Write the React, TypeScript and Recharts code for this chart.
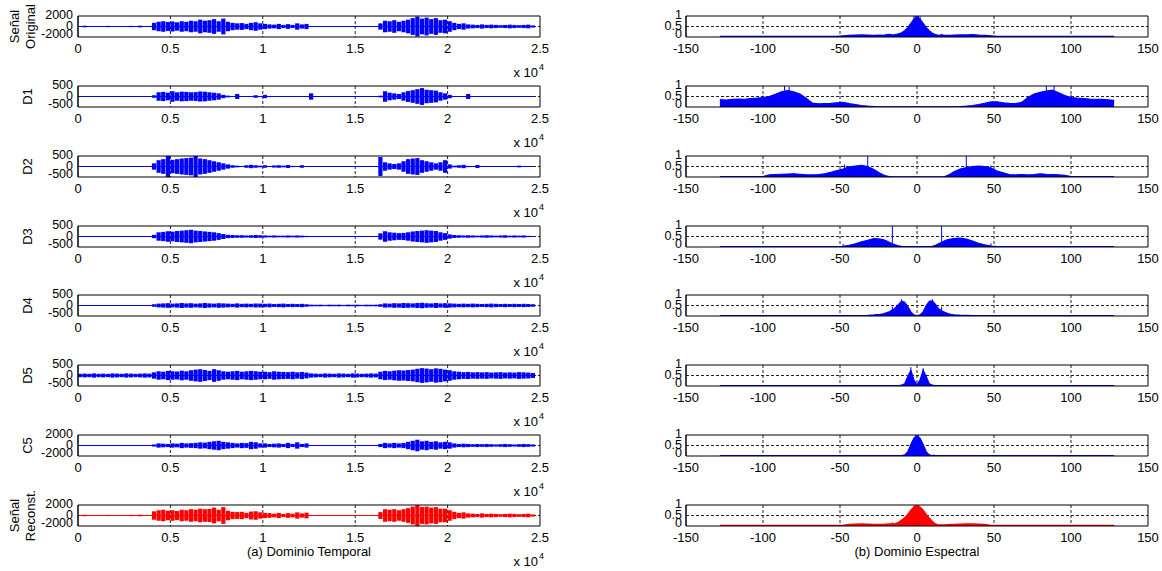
import React from 'react';
import { ComposedChart, Bar, Area, XAxis, YAxis, CartesianGrid, ReferenceLine } from 'recharts';

const FONT = '"Liberation Sans", Arial, Helvetica, sans-serif';
const BLUE = '#0000ff';
const RED = '#ff0000';

// ---------- time domain ----------
const timeBins = [
  125, 375, 625, 875, 1125, 1375, 1625, 1875, 2125, 2375,
  2625, 2875, 3125, 3375, 3625, 3875, 4125, 4375, 4625, 4875,
  5125, 5375, 5625, 5875, 6125, 6375, 6625, 6875, 7125, 7375,
  7625, 7875, 8125, 8375, 8625, 8875, 9125, 9375, 9625, 9875,
  10125, 10375, 10625, 10875, 11125, 11375, 11625, 11875, 12125, 12375,
  12625, 12875, 13125, 13375, 13625, 13875, 14125, 14375, 14625, 14875,
  15125, 15375, 15625, 15875, 16125, 16375, 16625, 16875, 17125, 17375,
  17625, 17875, 18125, 18375, 18625, 18875, 19125, 19375, 19625, 19875,
  20125, 20375, 20625, 20875, 21125, 21375, 21625, 21875, 22125, 22375,
  22625, 22875, 23125, 23375, 23625, 23875, 24125, 24375, 24625,
];
const timeTicks = [0, 5000, 10000, 15000, 20000, 25000];
const timeGrid = [5000, 10000, 15000, 20000];

const ampOriginal = [
  60, 150, 40, 30, 40, 30, 120, 40, 30, 40, 30, 120, 40, 160, 40, 50,
  700, 900, 1000, 850, 950, 800, 1000, 900, 1100, 1000, 1300, 1100, 1200, 1400, 1000, 1500,
  900, 700, 600, 650, 500, 700, 800, 600,
  500, 400, 350, 500, 300, 450, 300, 600, 400, 500,
  80, 40, 30, 40, 30, 40, 30, 40, 100, 40, 30, 40, 30, 50, 30, 600,
  1100, 1000, 1200, 900, 1100, 1300, 1600, 1900, 1500, 1700, 1400, 1600, 1200, 1300,
  1000, 700, 500, 600, 400, 350, 300, 400, 300, 350, 300, 250, 300, 350, 300, 250, 300, 350, 200,
];
const ampD1 = [
  10, 5, 5, 5, 5, 5, 5, 5, 5, 5, 5, 5, 5, 5, 5, 5,
  60, 200, 220, 180, 250, 200, 230, 220, 200, 210, 240, 230, 200, 180, 150, 80,
  40, 10, 120, 10, 5, 5, 60, 5,
  80, 5, 5, 5, 5, 5, 5, 5, 5, 5,
  150, 5, 5, 5, 5, 5, 5, 5, 5, 5, 5, 5, 5, 5, 5, 40,
  250, 180, 150, 120, 200, 260, 300, 350, 400, 320, 300, 280, 200, 150,
  80, 10, 5, 5, 120, 5, 5, 5, 5, 5, 5, 5, 5, 5, 5, 5, 5, 5, 5,
];
const ampD2 = [
  5, 5, 5, 5, 5, 5, 5, 5, 5, 5, 5, 5, 5, 5, 5, 5,
  150, 300, 350, 500, 320, 350, 380, 400, 420, 550, 380, 350, 300, 250, 200, 150,
  100, 60, 40, 20, 60, 80, 60, 40,
  60, 20, 50, 60, 40, 70, 30, 20, 60, 20,
  5, 5, 5, 5, 5, 5, 5, 5, 5, 5, 5, 5, 5, 5, 5, 450,
  200, 150, 120, 150, 250, 350, 380, 400, 300, 250, 200, 150, 200, 300,
  100, 40, 60, 80, 30, 20, 70, 20, 5, 5, 5, 5, 5, 5, 5, 40, 5, 5, 5,
];
const ampD3 = [
  10, 15, 10, 10, 10, 10, 15, 10, 10, 10, 10, 15, 10, 10, 10, 10,
  80, 200, 220, 250, 230, 260, 280, 300, 320, 280, 260, 240, 220, 200, 160, 120,
  80, 70, 60, 60, 50, 60, 70, 60,
  50, 40, 50, 40, 40, 50, 40, 50, 40, 30,
  20, 20, 15, 20, 15, 20, 15, 20, 15, 20, 15, 20, 15, 20, 20, 150,
  250, 200, 180, 160, 170, 200, 240, 260, 280, 300, 280, 260, 200, 160,
  100, 70, 60, 50, 60, 50, 40, 50, 60, 50, 40, 50, 60, 40, 50, 40, 50, 30, 20,
];
const ampD4 = [
  20, 25, 20, 20, 25, 20, 20, 25, 20, 20, 25, 20, 20, 25, 20, 25,
  60, 90, 100, 110, 90, 100, 120, 100, 110, 90, 100, 120, 100, 90, 110, 100,
  90, 80, 100, 80, 90, 80, 100, 90,
  80, 90, 70, 80, 90, 70, 80, 70, 80, 60,
  40, 35, 40, 30, 40, 35, 40, 30, 40, 35, 40, 30, 40, 35, 40, 60,
  100, 90, 110, 100, 120, 110, 100, 120, 130, 110, 100, 120, 100, 110,
  100, 90, 80, 90, 80, 90, 80, 70, 80, 90, 80, 70, 80, 70, 80, 70, 80, 70, 60,
];
const ampD5 = [
  80, 90, 80, 100, 80, 90, 80, 100, 90, 80, 100, 90, 80, 90, 100, 90,
  150, 200, 180, 220, 200, 190, 230, 200, 250, 280, 300, 260, 220, 300, 250, 200,
  180, 200, 220, 180, 200, 220, 200, 180,
  180, 160, 200, 180, 170, 160, 180, 150, 170, 140,
  100, 90, 80, 100, 90, 80, 100, 90, 80, 100, 90, 80, 90, 100, 90, 180,
  220, 200, 230, 250, 240, 260, 280, 320, 350, 330, 300, 340, 320, 280,
  250, 200, 180, 160, 170, 150, 160, 150, 160, 140, 150, 160, 140, 150, 140, 160, 150, 140, 120,
];
const ampC5 = [
  30, 40, 30, 30, 30, 30, 80, 30, 30, 30, 30, 100, 30, 40, 30, 30,
  200, 400, 350, 300, 400, 350, 500, 400, 450, 500, 600, 550, 700, 800, 900, 700,
  600, 500, 400, 500, 450, 700, 600, 400,
  400, 300, 350, 400, 300, 500, 300, 600, 300, 400,
  30, 30, 30, 30, 30, 30, 30, 30, 80, 30, 30, 30, 30, 30, 30, 300,
  500, 400, 500, 400, 500, 700, 900, 1100, 800, 900, 700, 800, 600, 700,
  600, 400, 300, 350, 300, 250, 300, 250, 300, 250, 200, 250, 300, 250, 200, 250, 300, 250, 200,
];
const ampRecon = [
  60, 140, 40, 30, 40, 30, 110, 40, 30, 40, 30, 120, 40, 150, 40, 50,
  800, 1000, 1100, 900, 1000, 850, 1100, 1000, 1200, 1100, 1300, 1200, 1250, 1500, 1100, 1600,
  900, 700, 650, 700, 500, 750, 800, 600,
  500, 450, 350, 500, 300, 450, 350, 600, 400, 550,
  80, 40, 30, 40, 30, 40, 30, 40, 100, 40, 30, 40, 30, 50, 30, 650,
  1200, 1100, 1200, 1000, 1200, 1400, 1700, 2000, 1600, 1700, 1500, 1600, 1300, 1300,
  1000, 700, 500, 600, 400, 350, 300, 400, 300, 350, 300, 250, 300, 350, 300, 250, 300, 350, 200,
];

// ---------- spectral domain ----------
const freqBins = [
  -128, -124, -120, -116, -112, -108, -104, -100, -96, -92, -88, -84, -80, -76, -72, -68, -64, -60, -56, -52, -48, -44, -40, -36, -32, -28, -24,
  -22, -20, -18, -16, -14, -12, -10, -8, -6, -4, -2, 0, 2, 4, 6, 8, 10, 12, 14, 16, 18, 20, 22,
  24, 28, 32, 36, 40, 44, 48, 52, 56, 60, 64, 68, 72, 76, 80, 84, 88, 92, 96, 100, 104, 108, 112, 116, 120, 124, 128,
];
const freqTicks = [-150, -100, -50, 0, 50, 100, 150];
const freqGrid = [-100, -50, 0, 50, 100];
const specTicks = [0, 0.5, 1];

const specOriginal = [
  0.03, 0.03, 0.03, 0.03, 0.03, 0.03, 0.03, 0.03, 0.03, 0.03, 0.03, 0.03, 0.03, 0.03, 0.03, 0.03, 0.03, 0.03, 0.03, 0.03, 0.06, 0.08, 0.09, 0.1, 0.09, 0.08, 0.09,
  0.08, 0.1, 0.12, 0.1, 0.12, 0.15, 0.2, 0.3, 0.45, 0.65, 0.85, 0.95, 0.85, 0.65, 0.45, 0.3, 0.18, 0.12, 0.08, 0.1, 0.08, 0.08, 0.08,
  0.09, 0.1, 0.1, 0.11, 0.09, 0.08, 0.06, 0.03, 0.03, 0.03, 0.03, 0.03, 0.03, 0.03, 0.03, 0.03, 0.03, 0.03, 0.03, 0.03, 0.03, 0.03, 0.03, 0.03, 0.03, 0.03, 0.03,
];
const specD1 = [
  0.35, 0.33, 0.36, 0.38, 0.37, 0.4, 0.42, 0.45, 0.5, 0.6, 0.72, 0.78, 0.72, 0.62, 0.42, 0.18, 0.15, 0.16, 0.17, 0.2, 0.22, 0.16, 0.12, 0.07, 0.04, 0.02, 0.01,
  0.01, 0.01, 0.01, 0.01, 0.01, 0.01, 0.01, 0.01, 0.01, 0.01, 0.01, 0.01, 0.01, 0.01, 0.01, 0.01, 0.01, 0.01, 0.01, 0.01, 0.01, 0.01, 0.01,
  0.01, 0.02, 0.04, 0.07, 0.12, 0.18, 0.24, 0.25, 0.2, 0.17, 0.16, 0.22, 0.45, 0.62, 0.7, 0.76, 0.8, 0.68, 0.55, 0.45, 0.42, 0.4, 0.38, 0.37, 0.36, 0.34, 0.32,
];
const specD2 = [
  0.02, 0.02, 0.02, 0.02, 0.02, 0.02, 0.02, 0.02, 0.1, 0.12, 0.13, 0.14, 0.15, 0.13, 0.1, 0.1, 0.12, 0.15, 0.22, 0.3, 0.38, 0.48, 0.52, 0.55, 0.5, 0.35, 0.18,
  0.1, 0.05, 0.02, 0.01, 0.01, 0.01, 0.01, 0.01, 0.01, 0.01, 0.01, 0.01, 0.01, 0.01, 0.01, 0.01, 0.01, 0.01, 0.01, 0.01, 0.02, 0.08, 0.15,
  0.25, 0.38, 0.45, 0.5, 0.52, 0.5, 0.42, 0.28, 0.2, 0.12, 0.1, 0.12, 0.1, 0.12, 0.15, 0.13, 0.12, 0.1, 0.08, 0.02, 0.02, 0.02, 0.02, 0.02, 0.02, 0.02, 0.02,
];
const specD3 = [
  0.02, 0.02, 0.02, 0.02, 0.02, 0.02, 0.02, 0.02, 0.02, 0.02, 0.02, 0.02, 0.02, 0.02, 0.02, 0.02, 0.02, 0.02, 0.02, 0.02, 0.03, 0.08, 0.15, 0.25, 0.32, 0.4, 0.38,
  0.35, 0.3, 0.22, 0.15, 0.1, 0.06, 0.03, 0.02, 0.02, 0.02, 0.02, 0.02, 0.02, 0.02, 0.02, 0.02, 0.03, 0.08, 0.15, 0.22, 0.3, 0.35, 0.38,
  0.4, 0.42, 0.38, 0.28, 0.18, 0.1, 0.04, 0.02, 0.02, 0.02, 0.02, 0.02, 0.02, 0.02, 0.02, 0.02, 0.02, 0.02, 0.02, 0.02, 0.02, 0.02, 0.02, 0.02, 0.02, 0.02, 0.02,
];
const specD4 = [
  0.02, 0.02, 0.02, 0.02, 0.02, 0.02, 0.02, 0.02, 0.02, 0.02, 0.02, 0.02, 0.02, 0.02, 0.02, 0.02, 0.02, 0.02, 0.02, 0.02, 0.02, 0.02, 0.02, 0.02, 0.03, 0.05, 0.08,
  0.1, 0.15, 0.2, 0.28, 0.4, 0.55, 0.7, 0.65, 0.45, 0.2, 0.05, 0.02, 0.05, 0.2, 0.5, 0.7, 0.72, 0.55, 0.35, 0.25, 0.18, 0.12, 0.08,
  0.06, 0.04, 0.03, 0.02, 0.02, 0.02, 0.02, 0.02, 0.02, 0.02, 0.02, 0.02, 0.02, 0.02, 0.02, 0.02, 0.02, 0.02, 0.02, 0.02, 0.02, 0.02, 0.02, 0.02, 0.02, 0.02, 0.02,
];
const specD5 = [
  0.02, 0.02, 0.02, 0.02, 0.02, 0.02, 0.02, 0.02, 0.02, 0.02, 0.02, 0.02, 0.02, 0.02, 0.02, 0.02, 0.02, 0.02, 0.02, 0.02, 0.02, 0.02, 0.02, 0.02, 0.02, 0.02, 0.02,
  0.02, 0.02, 0.02, 0.02, 0.02, 0.02, 0.04, 0.1, 0.45, 0.75, 0.3, 0.05, 0.3, 0.75, 0.45, 0.1, 0.04, 0.02, 0.02, 0.02, 0.02, 0.02, 0.02,
  0.02, 0.02, 0.02, 0.02, 0.02, 0.02, 0.02, 0.02, 0.02, 0.02, 0.02, 0.02, 0.02, 0.02, 0.02, 0.02, 0.02, 0.02, 0.02, 0.02, 0.02, 0.02, 0.02, 0.02, 0.02, 0.02, 0.02,
];
const specC5 = [
  0.02, 0.02, 0.02, 0.02, 0.02, 0.02, 0.02, 0.02, 0.02, 0.02, 0.02, 0.02, 0.02, 0.02, 0.02, 0.02, 0.02, 0.02, 0.02, 0.02, 0.02, 0.02, 0.02, 0.02, 0.02, 0.02, 0.02,
  0.02, 0.02, 0.02, 0.02, 0.02, 0.02, 0.02, 0.05, 0.2, 0.55, 0.85, 0.95, 0.85, 0.55, 0.2, 0.05, 0.02, 0.02, 0.02, 0.02, 0.02, 0.02, 0.02,
  0.02, 0.02, 0.02, 0.02, 0.02, 0.02, 0.02, 0.02, 0.02, 0.02, 0.02, 0.02, 0.02, 0.02, 0.02, 0.02, 0.02, 0.02, 0.02, 0.02, 0.02, 0.02, 0.02, 0.02, 0.02, 0.02, 0.02,
];
const specRecon = [
  0.03, 0.03, 0.03, 0.03, 0.03, 0.03, 0.03, 0.03, 0.03, 0.03, 0.03, 0.03, 0.03, 0.03, 0.03, 0.03, 0.03, 0.03, 0.03, 0.03, 0.03, 0.08, 0.09, 0.1, 0.09, 0.08, 0.08,
  0.08, 0.09, 0.1, 0.1, 0.12, 0.18, 0.28, 0.4, 0.55, 0.75, 0.9, 0.95, 0.9, 0.75, 0.55, 0.38, 0.22, 0.1, 0.06, 0.05, 0.06, 0.07, 0.08,
  0.08, 0.09, 0.1, 0.1, 0.09, 0.08, 0.03, 0.03, 0.03, 0.03, 0.03, 0.03, 0.03, 0.03, 0.03, 0.03, 0.03, 0.03, 0.03, 0.03, 0.03, 0.03, 0.03, 0.03, 0.03, 0.03, 0.03,
];

// thin isolated spectral lines: [frequency, magnitude]
const spikesOriginal = [[-2, 1.0], [-1, 1.0], [1, 1.0], [2, 0.98], [-20, 0.15], [-13, 0.14], [16, 0.15]];
const spikesD1 = [[-86, 1.0], [-83, 0.95], [84, 1.0], [89, 1.0], [-100, 0.55], [100, 0.6]];
const spikesD2 = [[-32, 1.0], [32, 1.0], [-47, 0.6], [48, 0.55], [-80, 0.2]];
const spikesD3 = [[-16, 1.0], [16, 1.0], [-48, 0.15], [48, 0.18]];
const spikesD4 = [[-16, 0.45], [16, 0.45], [-10, 0.8], [10, 0.8]];
const spikesD5 = [[-4, 0.9], [4, 0.85]];
const spikesC5 = [[-1, 1.0], [1, 1.0], [11, 0.08]];
const spikesRecon = [[-1, 1.0], [1, 1.0], [-2, 0.98], [-16, 0.18]];

const rowTops = [16, 86, 156, 226, 295, 365, 435, 505];
const rowLabels = [['Señal', 'Original'], ['D1'], ['D2'], ['D3'], ['D4'], ['D5'], ['C5'], ['Señal', 'Reconst.']];
const rowLimits = [2000, 500, 500, 500, 500, 500, 2000, 2000];
const rowColors = [BLUE, BLUE, BLUE, BLUE, BLUE, BLUE, BLUE, RED];
const rowAmps = [ampOriginal, ampD1, ampD2, ampD3, ampD4, ampD5, ampC5, ampRecon];
const rowSpecs = [specOriginal, specD1, specD2, specD3, specD4, specD5, specC5, specRecon];
const rowSpikes = [spikesOriginal, spikesD1, spikesD2, spikesD3, spikesD4, spikesD5, spikesC5, spikesRecon];

const tickStyle = { fill: '#000', fontSize: 13, fontFamily: FONT };
const PAD = 10; // space above each plot inside its chart

function makeYTick(lo: number) {
  return function YTick(props: any) {
    const { x, y, payload } = props;
    const v = payload.value;
    const shift = v === lo ? -3 : -1;
    return (
      <text x={x} y={y + shift} textAnchor="end" dominantBaseline="central" fontSize={12.5} fontFamily={FONT} fill="#000">
        {String(v)}
      </text>
    );
  };
}

function TimePanel({ idx }: { idx: number }) {
  const amp = rowAmps[idx];
  const lim = rowLimits[idx];
  const color = rowColors[idx];
  const data = timeBins.map((t, i) => ({ t, r: [-amp[i], amp[i]] }));
  const YTick = makeYTick(-lim);
  return (
    <div style={{ position: 'absolute', left: 0, top: rowTops[idx] - PAD }}>
      <ComposedChart width={560} height={65 + PAD} data={data} margin={{ top: PAD, right: 20, bottom: 0, left: 0 }}>
        <CartesianGrid stroke="#222" strokeDasharray="3 2" verticalValues={timeGrid} horizontalValues={[0]} />
        <XAxis dataKey="t" type="number" domain={[0, 25000]} ticks={timeTicks} interval={0}
          tickFormatter={(v: number) => String(v / 10000)} tickSize={0} tickMargin={7}
          axisLine={{ stroke: '#000' }} height={44} tick={tickStyle} allowDataOverflow />
        <YAxis type="number" domain={[-lim, lim]} ticks={[-lim, 0, lim]} interval={0} width={78}
          tickSize={0} tickMargin={5} axisLine={{ stroke: '#000' }} tick={<YTick />} allowDataOverflow />
        <ReferenceLine segment={[{ x: timeBins[0], y: 0 }, { x: timeBins[timeBins.length - 1], y: 0 }]} stroke={color} strokeWidth={1} />
        <Bar dataKey="r" fill={color} barSize={4.2} isAnimationActive={false} />
        <ReferenceLine y={lim} stroke="#000" strokeWidth={1} />
        <ReferenceLine x={25000} stroke="#000" strokeWidth={1} />
        <ReferenceLine x={0} stroke="#000" strokeWidth={1} />
      </ComposedChart>
    </div>
  );
}

function SpecPanel({ idx }: { idx: number }) {
  const spec = rowSpecs[idx];
  const color = rowColors[idx];
  const data = freqBins.map((f, i) => ({ f, v: spec[i] }));
  const YTick = makeYTick(0);
  return (
    <div style={{ position: 'absolute', left: 646, top: rowTops[idx] - PAD }}>
      <ComposedChart width={522} height={65 + PAD} data={data} margin={{ top: PAD, right: 20, bottom: 0, left: 0 }}>
        <CartesianGrid stroke="#222" strokeDasharray="3 2" verticalValues={freqGrid} horizontalValues={[0.5]} />
        <XAxis dataKey="f" type="number" domain={[-150, 150]} ticks={freqTicks} interval={0}
          tickSize={0} tickMargin={7} axisLine={{ stroke: '#000' }} height={44} tick={tickStyle} allowDataOverflow />
        <YAxis type="number" domain={[0, 1]} ticks={specTicks} interval={0} width={40}
          tickSize={0} tickMargin={4} axisLine={{ stroke: '#000' }} tick={<YTick />} allowDataOverflow />
        <Area dataKey="v" type="linear" stroke={color} strokeWidth={1.2} fill={color} fillOpacity={1} isAnimationActive={false} dot={false} />
        {rowSpikes[idx].map(([x, h], k) => (
          <ReferenceLine key={k} segment={[{ x, y: 0 }, { x, y: h }]} stroke={color} strokeWidth={1} />
        ))}
        <ReferenceLine y={1} stroke="#000" strokeWidth={1} />
        <ReferenceLine x={150} stroke="#000" strokeWidth={1} />
        <ReferenceLine x={-150} stroke="#000" strokeWidth={1} />
      </ComposedChart>
    </div>
  );
}

function Annotations() {
  const txt = { fontFamily: FONT, fill: '#000' } as const;
  return (
    <svg width={1162} height={571} style={{ position: 'absolute', left: 0, top: 0, pointerEvents: 'none' }}>
      {rowTops.map((top, i) => {
        const cy = top + 10.5;
        const lines = rowLabels[i];
        const xs = lines.length === 1 ? [27] : [14, 30];
        return (
          <g key={i}>
            {lines.map((s, k) => (
              <text key={k} x={xs[k]} y={cy} transform={`rotate(-90 ${xs[k]} ${cy})`} textAnchor="middle"
                dominantBaseline="central" fontSize={13} {...txt}>{s}</text>
            ))}
            <text x={538} y={top + 61} textAnchor="end" fontSize={13} {...txt}>x 10</text>
            <text x={539} y={top + 54} textAnchor="start" fontSize={9} {...txt}>4</text>
          </g>
        );
      })}
      <text x={309} y={556} textAnchor="middle" fontSize={13} {...txt}>(a) Dominio Temporal</text>
      <text x={917} y={556} textAnchor="middle" fontSize={13} {...txt}>(b) Dominio Espectral</text>
    </svg>
  );
}

export default function App() {
  return (
    <div style={{ position: 'absolute', left: 0, top: 0, width: 1162, height: 571, background: '#fff', overflow: 'hidden' }}>
      {rowTops.map((_, i) => <TimePanel key={`t${i}`} idx={i} />)}
      {rowTops.map((_, i) => <SpecPanel key={`s${i}`} idx={i} />)}
      <Annotations />
    </div>
  );
}
